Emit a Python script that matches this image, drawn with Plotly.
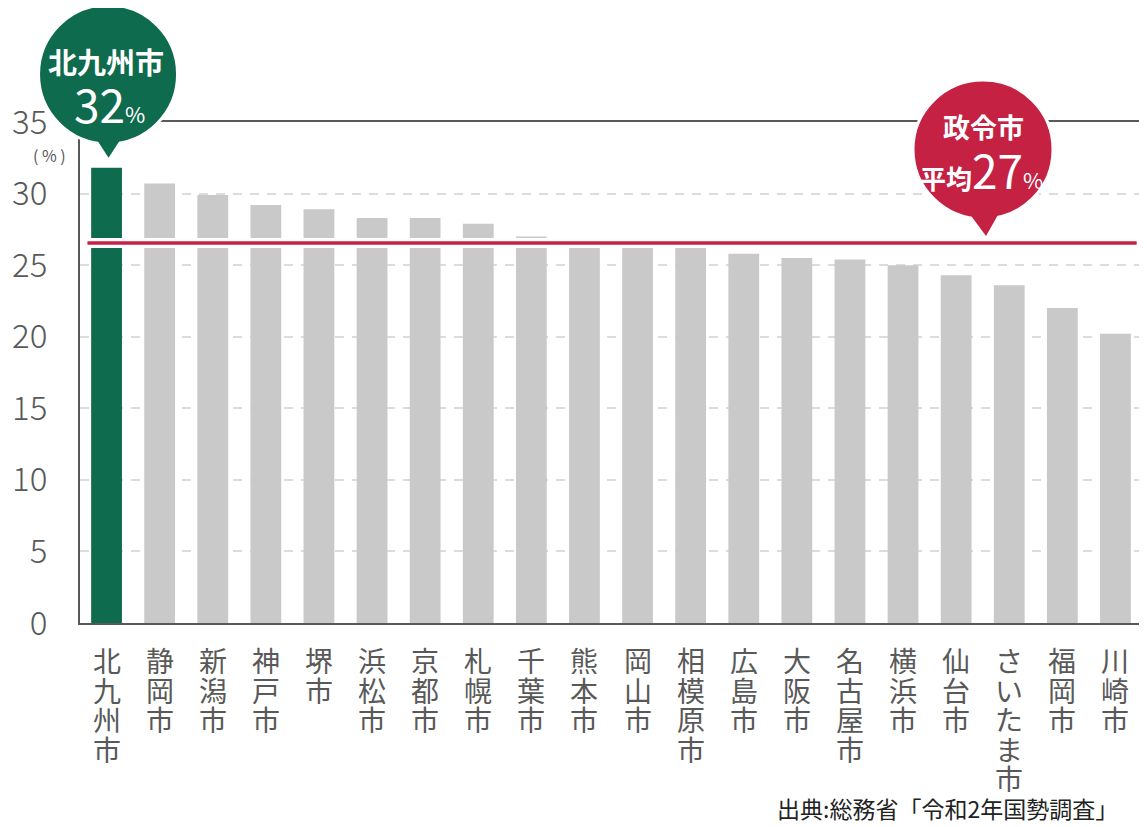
import plotly.graph_objects as go

cities = ["北九州市", "静岡市", "新潟市", "神戸市", "堺市", "浜松市", "京都市", "札幌市",
          "千葉市", "熊本市", "岡山市", "相模原市", "広島市", "大阪市", "名古屋市", "横浜市",
          "仙台市", "さいたま市", "福岡市", "川崎市"]
values = [31.8, 30.7, 29.9, 29.2, 28.9, 28.3, 28.3, 27.9,
          27.0, 26.7, 26.6, 26.4, 25.8, 25.5, 25.4, 25.0,
          24.3, 23.6, 22.0, 20.2]
average = 26.55
highlight_city = "北九州市"
highlight_label = "32"
average_label = "27"
y_ticks = [0, 5, 10, 15, 20, 25, 30, 35]
y_max = 35
source_text = "出典:総務省「令和2年国勢調査」"

GREEN = "#0f6b4d"
RED = "#c42143"
GRAY_BAR = "#c9c9c9"
AXIS = "#595959"
FONT = "Noto Sans CJK JP"

n = len(cities)
colors = [GREEN if c == highlight_city else GRAY_BAR for c in cities]

fig = go.Figure()
fig.add_trace(go.Bar(x=cities, y=values, marker=dict(color=colors, line=dict(width=0)),
                     hoverinfo="skip"))

shapes = []
# average line with white halo
shapes.append(dict(type="line", xref="paper", yref="y", x0=0.007, x1=0.995,
                   y0=average, y1=average, line=dict(color="white", width=10), layer="above"))
shapes.append(dict(type="line", xref="paper", yref="y", x0=0.007, x1=0.995,
                   y0=average, y1=average, line=dict(color=RED, width=3.5), layer="above"))

hi_idx = cities.index(highlight_city)
hi_val = values[hi_idx]
hi_px = (hi_idx + 0.5) / n
hi_py = hi_val / y_max
# green callout (pixel sized, anchored on bar top, paper refs so it is not clipped)
shapes.append(dict(type="circle", xref="paper", yref="paper", xsizemode="pixel", ysizemode="pixel",
                   xanchor=hi_px, yanchor=hi_py, x0=-68, x1=71, y0=24, y1=163,
                   fillcolor=GREEN, line=dict(color="white", width=3), layer="above"))
shapes.append(dict(type="path", xref="paper", yref="paper", xsizemode="pixel", ysizemode="pixel",
                   xanchor=hi_px, yanchor=hi_py, path="M -11,30 L 2,10 L 15,30 Z",
                   fillcolor=GREEN, line=dict(width=0), layer="above"))

# red callout (pixel sized, anchored on average line)
av_px = 0.8503
av_py = average / y_max
shapes.append(dict(type="circle", xref="paper", yref="paper", xsizemode="pixel", ysizemode="pixel",
                   xanchor=av_px, yanchor=av_py, x0=-70, x1=70, y0=24, y1=163,
                   fillcolor=RED, line=dict(color="white", width=3), layer="above"))
shapes.append(dict(type="path", xref="paper", yref="paper", xsizemode="pixel", ysizemode="pixel",
                   xanchor=av_px, yanchor=av_py, path="M -14,30 L 3,7 L 16,30 Z",
                   fillcolor=RED, line=dict(width=0), layer="above"))

annotations = []
# callout texts
annotations.append(dict(xref="paper", yref="paper", x=hi_px, y=hi_py, xanchor="center",
                        yanchor="middle", yshift=107, xshift=-1,
                        text="<b>北九州市</b>", showarrow=False,
                        font=dict(family=FONT, size=29, color="white")))
annotations.append(dict(xref="paper", yref="paper", x=hi_px, y=hi_py, xanchor="center",
                        yanchor="middle", yshift=65, xshift=3,
                        text=highlight_label + "<span style='font-size:22px'>%</span>",
                        showarrow=False, font=dict(family=FONT, size=46, color="white")))
annotations.append(dict(xref="paper", yref="paper", x=av_px, y=av_py, xanchor="center",
                        yanchor="middle", yshift=116, xshift=0,
                        text="<b>政令市</b>", showarrow=False,
                        font=dict(family=FONT, size=27, color="white")))
annotations.append(dict(xref="paper", yref="paper", x=av_px, y=av_py, xanchor="center",
                        yanchor="middle", yshift=74, xshift=-2,
                        text="<b><span style='font-size:26px'>平均</span></b>" + average_label
                             + "<span style='font-size:22px'>%</span>",
                        showarrow=False, font=dict(family=FONT, size=46, color="white")))

# vertical category labels, one character per line
for c in cities:
    for k, ch in enumerate(c):
        annotations.append(dict(xref="x", yref="y", x=c, y=0, yshift=-(36.5 + 29.5 * k),
                                text=ch, showarrow=False, yanchor="middle", height=29,
                                font=dict(family=FONT, size=28, color=AXIS)))

# unit label
annotations.append(dict(xref="paper", yref="y", x=0, y=y_max, xanchor="center",
                        xshift=-31, yshift=-33, text="( % )", showarrow=False,
                        font=dict(family=FONT, size=16, color=AXIS)))
# source
annotations.append(dict(xref="paper", yref="paper", x=1, y=0, xanchor="right", yanchor="middle",
                        xshift=-22, yshift=-185, text=source_text, showarrow=False, height=26,
                        font=dict(family=FONT, size=23, color="#222222")))

fig.update_layout(
    width=1139, height=819,
    margin=dict(l=72, r=5, t=114, b=204, autoexpand=False),
    paper_bgcolor="white", plot_bgcolor="white",
    bargap=0.42, showlegend=False,
    shapes=shapes, annotations=annotations,
    font=dict(family=FONT, color=AXIS),
)
fig.update_xaxes(showticklabels=False, showline=True, mirror=True, linecolor=AXIS, linewidth=2,
                 showgrid=False, ticks="", range=[-0.5, n - 0.5], fixedrange=True)
fig.update_yaxes(range=[0, y_max], tickvals=y_ticks, ticktext=[str(v) for v in y_ticks],
                 showline=True, mirror=True, linecolor=AXIS, linewidth=2,
                 showgrid=True, gridcolor="#dcdcdc", gridwidth=2, griddash="9px,8px",
                 zeroline=False, ticks="", ticklabelstandoff=24,
                 tickfont=dict(family=FONT, size=33, color=AXIS, weight=300), fixedrange=True)

fig.write_html("out.html")
